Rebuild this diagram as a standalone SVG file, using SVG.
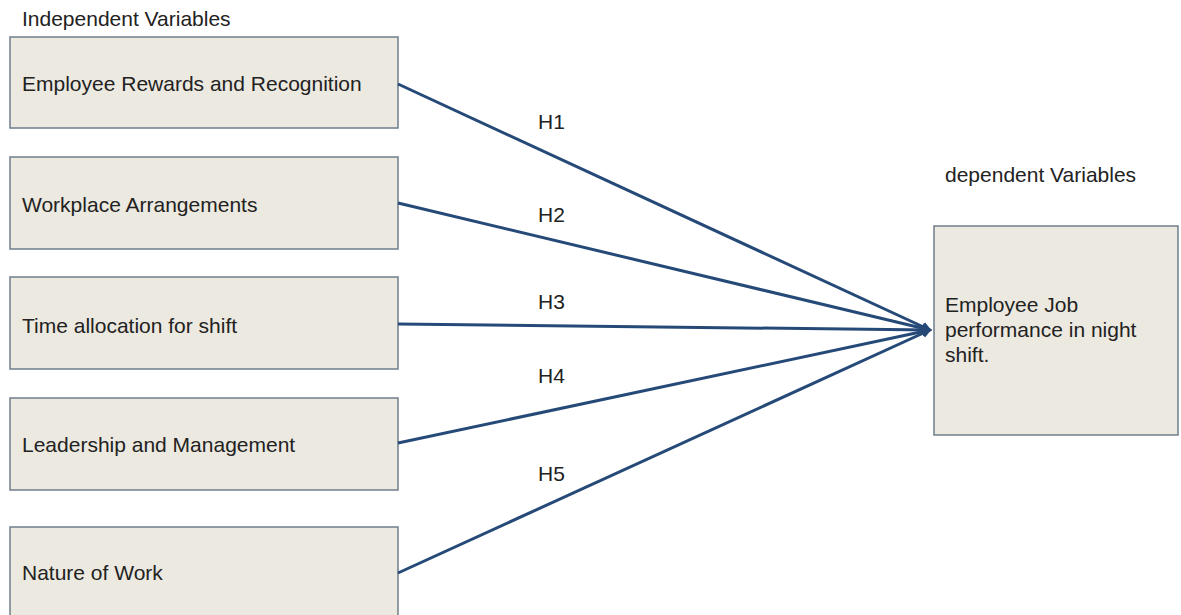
<svg xmlns="http://www.w3.org/2000/svg" width="1181" height="615" viewBox="0 0 1181 615">
<style>
.box{fill:#ece9e0;stroke:#6e7e8c;stroke-width:1.5}
.t{font-family:"Liberation Sans",Arial,sans-serif;font-size:21px;fill:#222}
.c{stroke:#264a78;stroke-width:3;fill:none}
</style>
<defs>
<marker id="ah" markerWidth="10" markerHeight="10" refX="8" refY="5" orient="auto" markerUnits="userSpaceOnUse" viewBox="0 0 10 10">
<path d="M0,0 L10,5 L0,10 Z" fill="#264a78"/>
</marker>
</defs>
<rect width="1181" height="615" fill="#fff"/>
<text class="t" x="22" y="26">Independent Variables</text>
<text class="t" x="945" y="182">dependent Variables</text>
<g id="n1"><rect class="box" x="10" y="37" width="388" height="91"/><text class="t" x="22" y="91">Employee Rewards and Recognition</text></g>
<g id="n2"><rect class="box" x="10" y="157" width="388" height="92"/><text class="t" x="22" y="212">Workplace Arrangements</text></g>
<g id="n3"><rect class="box" x="10" y="277" width="388" height="92"/><text class="t" x="22" y="333">Time allocation for shift</text></g>
<g id="n4"><rect class="box" x="10" y="398" width="388" height="92"/><text class="t" x="22" y="452">Leadership and Management</text></g>
<g id="n5"><rect class="box" x="10" y="527" width="388" height="100"/><text class="t" x="22" y="580">Nature of Work</text></g>
<g id="dep"><rect class="box" x="934" y="226" width="244" height="209"/><text class="t" x="945" y="312">Employee Job</text><text class="t" x="945" y="337">performance in night</text><text class="t" x="945" y="362">shift.</text></g>
<g id="connectors">
<line class="c" x1="398" y1="84" x2="930" y2="330" marker-end="url(#ah)"/>
<line class="c" x1="398" y1="203" x2="930" y2="330" marker-end="url(#ah)"/>
<line class="c" x1="398" y1="324" x2="930" y2="330" marker-end="url(#ah)"/>
<line class="c" x1="398" y1="443" x2="930" y2="330" marker-end="url(#ah)"/>
<line class="c" x1="398" y1="573" x2="930" y2="330" marker-end="url(#ah)"/>
<text class="t" x="538" y="129">H1</text>
<text class="t" x="538" y="222">H2</text>
<text class="t" x="538" y="309">H3</text>
<text class="t" x="538" y="383">H4</text>
<text class="t" x="538" y="481">H5</text>
</g>
</svg>
